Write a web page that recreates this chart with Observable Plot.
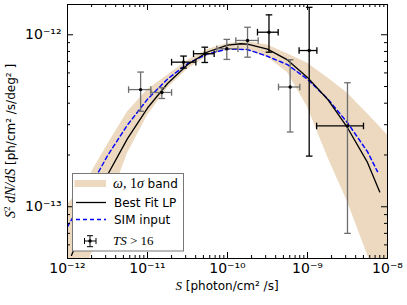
<!DOCTYPE html>
<html><head><meta charset="utf-8">
<script src="https://cdn.jsdelivr.net/npm/d3@7"></script>
<script src="https://cdn.jsdelivr.net/npm/@observablehq/plot@0.6"></script>
<style>
body{margin:0;background:#fff;}
#chart{position:relative;width:407px;height:305px;}
</style></head><body><div id="chart"></div>
<script>
// ---- data ----
// 1-sigma band (omega)
const bandS = [1e-12, 1.78e-12, 3.16e-12, 5.62e-12, 1e-11, 1.78e-11, 3.16e-11, 5.62e-11, 1e-10, 1.78e-10, 3.16e-10, 5.62e-10, 1e-9, 1.78e-9, 3.16e-9, 5.62e-9, 1e-8];
const bandUpper = [1.023e-13, 1.445e-13, 2.29e-13, 3.55e-13, 4.79e-13, 5.82e-13, 7.08e-13, 8.22e-13, 8.91e-13, 9.12e-13, 8.71e-13, 7.76e-13, 6.84e-13, 5.62e-13, 4.57e-13, 3.47e-13, 2.61e-13];
const bandLower = [2.0e-14, 4.57e-14, 1.0e-13, 2.04e-13, 3.39e-13, 4.90e-13, 6.31e-13, 7.50e-13, 8.13e-13, 8.13e-13, 7.41e-13, 6.03e-13, 3.80e-13, 1.95e-13, 1.07e-13, 5.25e-14, 2.63e-14];
// Best fit LP
const lpS = [1.12e-12, 1.78e-12, 3.16e-12, 5.62e-12, 1e-11, 1.78e-11, 3.16e-11, 5.62e-11, 1e-10, 1.47e-10, 1.78e-10, 3.16e-10, 5.62e-10, 1e-9, 1.78e-9, 3.16e-9, 5.62e-9, 8.0e-9];
const lpY = [5.21e-14, 8.67e-14, 1.53e-13, 2.49e-13, 3.75e-13, 5.21e-13, 6.70e-13, 7.94e-13, 8.71e-13, 8.87e-13, 8.83e-13, 8.26e-13, 7.14e-13, 5.65e-13, 4.22e-13, 2.88e-13, 1.81e-13, 1.22e-13];
// SIM input
const simS = [1e-12, 1.78e-12, 3.16e-12, 5.62e-12, 1e-11, 1.78e-11, 3.16e-11, 5.62e-11, 1e-10, 1.78e-10, 3.16e-10, 5.62e-10, 1e-9, 1.78e-9, 3.16e-9, 5.62e-9, 7.5e-9];
const simY = [7.66e-14, 1.22e-13, 1.98e-13, 2.99e-13, 4.22e-13, 5.53e-13, 6.79e-13, 7.74e-13, 8.26e-13, 8.20e-13, 7.50e-13, 6.70e-13, 5.51e-13, 4.25e-13, 3.08e-13, 2.09e-13, 1.60e-13];
// TS>16 points with error bars
const ptS   = [8.2e-12, 1.51e-11, 2.82e-11, 5.2e-11, 9.8e-11, 1.78e-10, 3.3e-10, 6.07e-10, 1.05e-9, 3.16e-9];
const ptY   = [4.8e-13, 4.62e-13, 6.93e-13, 7.76e-13, 8.3e-13, 9.27e-13, 1.035e-12, 4.97e-13, 8.1e-13, 2.95e-13];
const ptSlo = [5.8e-12, 1.1e-11, 2.0e-11, 3.76e-11, 7.35e-11, 1.27e-10, 2.37e-10, 4.34e-10, 7.85e-10, 1.30e-9];
const ptShi = [1.1e-11, 2.0e-11, 4.02e-11, 6.81e-11, 1.35e-10, 2.42e-10, 4.30e-10, 8.02e-10, 1.31e-9, 5.01e-9];
const ptYlo = [3.59e-13, 4.26e-13, 6.40e-13, 6.90e-13, 7.19e-13, 7.41e-13, 7.92e-13, 2.72e-13, 1.97e-13, 7.0e-14];
const ptYhi = [6.07e-13, 4.92e-13, 7.52e-13, 8.47e-13, 9.40e-13, 1.106e-12, 1.306e-12, 7.16e-13, 1.445e-12, 5.26e-13];
// ticks
const xTicks = [1e-12, 1e-11, 1e-10, 1e-9, 1e-8];
const xTickLabels = ["10\u207B\u00B9\u00B2", "10\u207B\u00B9\u00B9", "10\u207B\u00B9\u2070", "10\u207B\u2079", "10\u207B\u2078"];
const yTicks = [1e-13, 1e-12];
const yTickLabels = ["10\u207B\u00B9\u00B3", "10\u207B\u00B9\u00B2"];
const legendLabels = ["band", "Best Fit LP", "SIM input", "TS>16"];

// ---- build tables ----
const band = bandS.map((s, i) => ({s, lo: bandLower[i], hi: bandUpper[i]}));
const lp = lpS.map((s, i) => ({s, y: lpY[i]}));
const sim = simS.map((s, i) => ({s, y: simY[i]}));
const pts = ptS.map((s, i) => ({i, s, y: ptY[i], slo: ptSlo[i], shi: ptShi[i], ylo: ptYlo[i], yhi: ptYhi[i]}));

// style: which error bars appear grey
const greyV = [0, 1, 4, 5, 7, 9];
const greyH = [0, 1, 4, 5, 7];

const minorX = [], minorY = [];
for (const dec of [1e-12, 1e-11, 1e-10, 1e-9]) for (let k = 2; k <= 9; k++) minorX.push(k * dec);
for (const dec of [1e-14, 1e-13]) for (let k = 2; k <= 9; k++) { const v = k * dec; if (v > 5.2e-14) minorY.push(v); }

const W = 407, H = 305, mL = 67, mR = 20, mT = 4, mB = 47;
const innerW = W - mL - mR, innerH = H - mT - mB;
const majL = 6, minL = 3;

const hCap = {draw(ctx, size) { const r = Math.sqrt(size / Math.PI); ctx.moveTo(-r, 0); ctx.lineTo(r, 0); }};
const vCap = {draw(ctx, size) { const r = Math.sqrt(size / Math.PI); ctx.moveTo(0, -r); ctx.lineTo(0, r); }};
const GREY = "#6e6e6e";
const colV = d => greyV.includes(d.i) ? GREY : "black";
const colH = d => greyH.includes(d.i) ? GREY : "black";
const EW = 1.3;
const TICKFS = 14;

const chart = Plot.plot({
  width: W, height: H,
  marginLeft: mL, marginRight: mR, marginTop: mT, marginBottom: mB,
  style: {fontFamily: "DejaVu Sans", fontSize: TICKFS + "px", background: "white", color: "black"},
  x: {type: "log", domain: [1e-12, 1e-8], axis: null},
  y: {type: "log", domain: [5e-14, 1.5e-12], axis: null},
  marks: [
    Plot.areaY(band, {x: "s", y1: "lo", y2: "hi", fill: "#ecd9bf", clip: true}),
    Plot.line(sim, {x: "s", y: "y", stroke: "#0000ff", strokeWidth: 1.4, strokeDasharray: "4,3", clip: true}),
    Plot.line(lp, {x: "s", y: "y", stroke: "black", strokeWidth: 1.3, clip: true}),
    // vertical error bars
    Plot.link(pts, {x1: "s", x2: "s", y1: "ylo", y2: "yhi", stroke: colV, strokeWidth: EW, clip: true}),
    Plot.dot(pts, {x: "s", y: "ylo", symbol: hCap, r: 3.3, stroke: colV, fill: "none", strokeWidth: EW}),
    Plot.dot(pts, {x: "s", y: "yhi", symbol: hCap, r: 3.3, stroke: colV, fill: "none", strokeWidth: EW}),
    // horizontal error bars
    Plot.link(pts, {x1: "slo", x2: "shi", y1: "y", y2: "y", stroke: colH, strokeWidth: EW}),
    Plot.dot(pts, {x: "slo", y: "y", symbol: vCap, r: 3.3, stroke: colH, fill: "none", strokeWidth: EW}),
    Plot.dot(pts, {x: "shi", y: "y", symbol: vCap, r: 3.3, stroke: colH, fill: "none", strokeWidth: EW}),
    Plot.dot(pts, {x: "s", y: "y", r: 1.7, fill: "black"}),
    // inward ticks on all four sides
    Plot.ruleX(xTicks, {insetTop: innerH - majL, stroke: "black"}),
    Plot.ruleX(xTicks, {insetBottom: innerH - majL, stroke: "black"}),
    Plot.ruleX(minorX, {insetTop: innerH - minL, stroke: "black"}),
    Plot.ruleX(minorX, {insetBottom: innerH - minL, stroke: "black"}),
    Plot.ruleY(yTicks, {insetRight: innerW - majL, stroke: "black"}),
    Plot.ruleY(yTicks, {insetLeft: innerW - majL, stroke: "black"}),
    Plot.ruleY(minorY, {insetRight: innerW - minL, stroke: "black"}),
    Plot.ruleY(minorY, {insetLeft: innerW - minL, stroke: "black"}),
    Plot.frame({stroke: "black"}),
    Plot.axisX({ticks: xTicks, tickSize: 0, tickPadding: 5, label: null, fontSize: TICKFS, tickFormat: d => xTickLabels[xTicks.indexOf(d)]}),
    Plot.axisY({ticks: yTicks, tickSize: 0, tickPadding: 6, label: null, fontSize: TICKFS, tickFormat: d => yTickLabels[yTicks.indexOf(d)]})
  ]
});
document.getElementById("chart").appendChild(chart);

// ---- axis labels and legend (added into the same svg) ----
const svg = d3.select(chart);
svg.selectAll('[aria-label$="tick label"]').attr("font-size", TICKFS).style("font-size", TICKFS + "px");
const SERIF = "Liberation Serif";
const xl = svg.append("text").attr("x", mL + innerW / 2).attr("y", 290).attr("text-anchor", "middle")
  .attr("font-size", 12).attr("font-family", "DejaVu Sans").attr("fill", "black");
xl.append("tspan").attr("font-family", SERIF).attr("font-style", "italic").attr("font-size", 13).text("S");
xl.append("tspan").text(" [photon/cm\u00B2 /s]");

const yl = svg.append("text").attr("transform", "translate(15,141) rotate(-90)").attr("text-anchor", "middle")
  .attr("font-size", 12).attr("font-family", "DejaVu Sans").attr("fill", "black");
yl.append("tspan").attr("font-family", SERIF).attr("font-style", "italic").attr("font-size", 14).text("S");
yl.append("tspan").attr("font-family", SERIF).attr("font-size", 9).attr("dy", -5).text("2");
yl.append("tspan").attr("font-family", SERIF).attr("font-style", "italic").attr("font-size", 14).attr("dy", 5).text(" dN/dS");
yl.append("tspan").text(" [ph/cm\u00B2 /s/deg\u00B2 ]");

const lg = svg.append("g").attr("text-anchor", "start").attr("fill", "black");
lg.append("rect").attr("x", 72.5).attr("y", 173.5).attr("width", 111).attr("height", 77.5)
  .attr("fill", "white").attr("stroke", "#777").attr("stroke-width", 1);
// band entry
lg.append("rect").attr("x", 74.5).attr("y", 180).attr("width", 31.5).attr("height", 7).attr("fill", "#ecd9bf");
const t1 = lg.append("text").attr("x", 113).attr("y", 187.5).attr("font-size", 12).attr("font-family", "DejaVu Sans");
t1.append("tspan").attr("font-family", SERIF).attr("font-style", "italic").attr("font-size", 14).text("\u03C9");
t1.append("tspan").attr("font-family", SERIF).attr("font-size", 14).text(", 1");
t1.append("tspan").attr("font-family", SERIF).attr("font-style", "italic").attr("font-size", 14).text("\u03C3");
t1.append("tspan").text(" " + legendLabels[0]);
// best fit
lg.append("line").attr("x1", 76).attr("x2", 106).attr("y1", 202.5).attr("y2", 202.5).attr("stroke", "black").attr("stroke-width", 1.3);
lg.append("text").attr("x", 114).attr("y", 206.7).attr("font-size", 12).attr("font-family", "DejaVu Sans").text(legendLabels[1]);
// sim input
lg.append("line").attr("x1", 76).attr("x2", 106).attr("y1", 219.5).attr("y2", 219.5).attr("stroke", "#0000ff").attr("stroke-width", 1.4).attr("stroke-dasharray", "4,3");
lg.append("text").attr("x", 114).attr("y", 223.7).attr("font-size", 12).attr("font-family", "DejaVu Sans").text(legendLabels[2]);
// TS > 16
lg.append("line").attr("x1", 84.5).attr("x2", 96).attr("y1", 241).attr("y2", 241).attr("stroke", "black");
lg.append("line").attr("x1", 90).attr("x2", 90).attr("y1", 235.7).attr("y2", 246.7).attr("stroke", "black");
lg.append("line").attr("x1", 84.5).attr("x2", 84.5).attr("y1", 238).attr("y2", 244).attr("stroke", "black");
lg.append("line").attr("x1", 96).attr("x2", 96).attr("y1", 238).attr("y2", 244).attr("stroke", "black");
lg.append("line").attr("x1", 87).attr("x2", 93).attr("y1", 235.7).attr("y2", 235.7).attr("stroke", "black");
lg.append("line").attr("x1", 87).attr("x2", 93).attr("y1", 246.7).attr("y2", 246.7).attr("stroke", "black");
lg.append("circle").attr("cx", 90).attr("cy", 241).attr("r", 1.7).attr("fill", "black");
const t4 = lg.append("text").attr("x", 113).attr("y", 245).attr("font-size", 13).attr("font-family", SERIF).attr("font-style", "italic");
t4.append("tspan").text("TS");
t4.append("tspan").attr("font-style", "normal").text(" > ");
t4.append("tspan").attr("font-style", "normal").text("16");
</script></body></html>
